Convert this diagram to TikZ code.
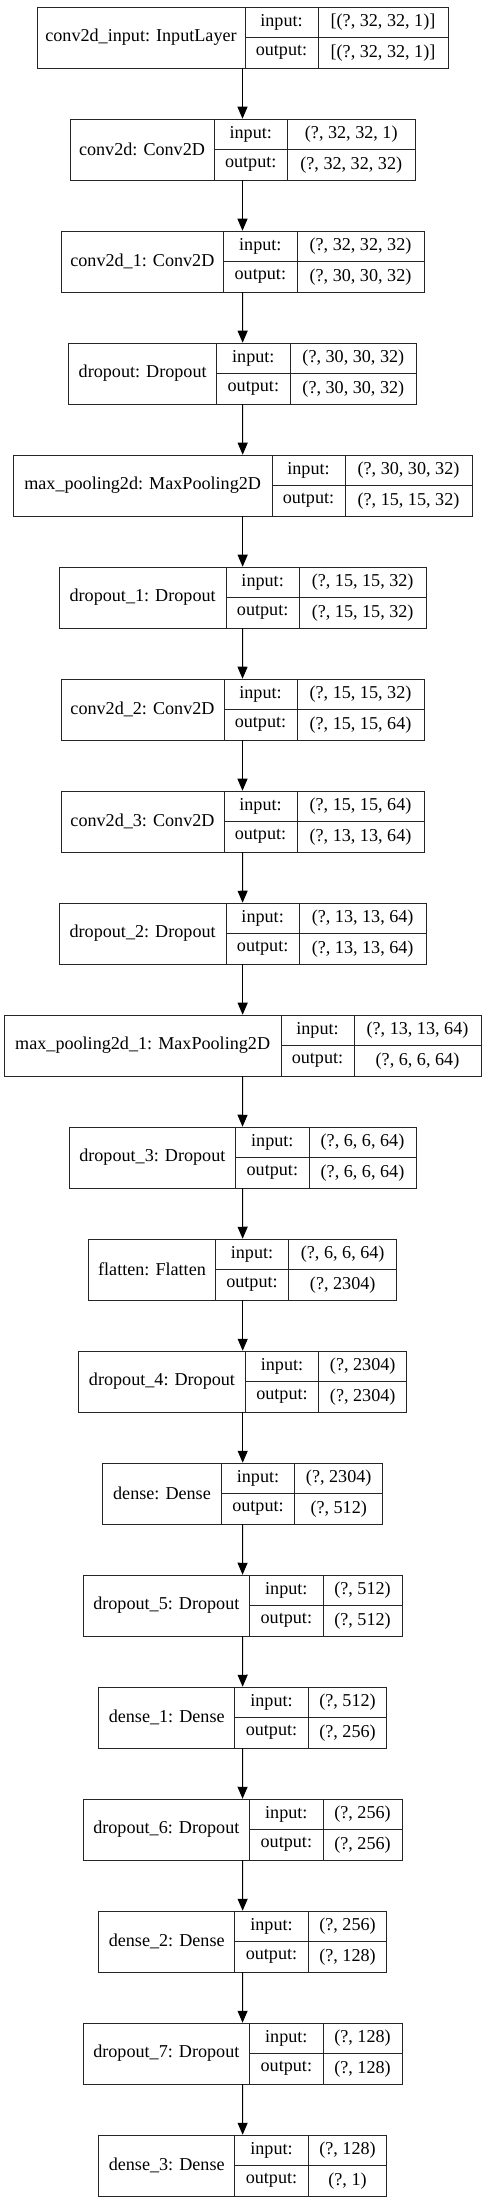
\documentclass[tikz,border=0pt]{standalone}
\usepackage{fontspec}
\setmainfont{Liberation Serif}
\usepackage{tikz}
\usetikzlibrary{arrows.meta}
\usetikzlibrary{fit,positioning}
% one record: #1 name, #2 row, #3 left, #4 first split, #5 second split, #6 right, #7 label, #8 input, #9 output
\newcommand{\layerbox}[9]{%
  \pgfmathsetmacro{\ytop}{7+112*#2}%
  \pgfmathsetmacro{\ymid}{\ytop+30.5}%
  \pgfmathsetmacro{\ybot}{\ytop+61}%
  \node[layer, fit={(#3,\ytop) (#6,\ybot)}] (#1) {};
  \node[cell, fit={(#3,\ytop) (#4,\ybot)}, label=center:{#7}] (#1-name) {};
  \node[cell, fit={(#4,\ytop) (#5,\ymid)}, label=center:{input:}] (#1-inkey) {};
  \node[cell, fit={(#5,\ytop) (#6,\ymid)}, label=center:{#8}] (#1-inval) {};
  \node[cell, fit={(#4,\ymid) (#5,\ybot)}, label=center:{output:}] (#1-outkey) {};
  \node[cell, fit={(#5,\ymid) (#6,\ybot)}, label=center:{#9}] (#1-outval) {};
}

\begin{document}
\begin{tikzpicture}[x=0.75pt, y=-0.75pt, font=\fontsize{13.6}{16}\selectfont,
                layer/.style={rectangle, inner sep=0pt, fill=white},
                cell/.style={rectangle, inner sep=0pt, draw=black!85, line width=0.75pt},
                arrow/.style={draw, line width=0.75pt, -{Triangle[length=9pt, width=7.5pt]}}
            ]
            \useasboundingbox (0,0) rectangle (485,2203);
            \layerbox{l0}{0}{37}{245}{318}{448}{conv2d\_input: InputLayer}{[(?, 32, 32, 1)]}{[(?, 32, 32, 1)]}
            \layerbox{l1}{1}{70}{214}{287.5}{415}{conv2d: Conv2D}{(?, 32, 32, 1)}{(?, 32, 32, 32)}
            \layerbox{l2}{2}{61}{223.7}{297}{424}{conv2d\_1: Conv2D}{(?, 32, 32, 32)}{(?, 30, 30, 32)}
            \layerbox{l3}{3}{68.7}{216.7}{290}{416.7}{dropout: Dropout}{(?, 30, 30, 32)}{(?, 30, 30, 32)}
            \layerbox{l4}{4}{13.3}{272}{345}{472}{max\_pooling2d: MaxPooling2D}{(?, 30, 30, 32)}{(?, 15, 15, 32)}
            \layerbox{l5}{5}{59.3}{226}{299.3}{426}{dropout\_1: Dropout}{(?, 15, 15, 32)}{(?, 15, 15, 32)}
            \layerbox{l6}{6}{61}{224}{297}{424}{conv2d\_2: Conv2D}{(?, 15, 15, 32)}{(?, 15, 15, 64)}
            \layerbox{l7}{7}{61}{224}{297}{424}{conv2d\_3: Conv2D}{(?, 15, 15, 64)}{(?, 13, 13, 64)}
            \layerbox{l8}{8}{59.3}{226}{299.3}{426}{dropout\_2: Dropout}{(?, 13, 13, 64)}{(?, 13, 13, 64)}
            \layerbox{l9}{9}{4.3}{281}{354}{481}{max\_pooling2d\_1: MaxPooling2D}{(?, 13, 13, 64)}{(?, 6, 6, 64)}
            \layerbox{l10}{10}{69}{235.7}{309}{416}{dropout\_3: Dropout}{(?, 6, 6, 64)}{(?, 6, 6, 64)}
            \layerbox{l11}{11}{88.7}{215.3}{288.7}{396.7}{flatten: Flatten}{(?, 6, 6, 64)}{(?, 2304)}
            \layerbox{l12}{12}{78.7}{245.3}{318.7}{406.7}{dropout\_4: Dropout}{(?, 2304)}{(?, 2304)}
            \layerbox{l13}{13}{102.7}{221.3}{294.7}{382.7}{dense: Dense}{(?, 2304)}{(?, 512)}
            \layerbox{l14}{14}{83}{249.7}{323}{402}{dropout\_5: Dropout}{(?, 512)}{(?, 512)}
            \layerbox{l15}{15}{98.7}{234.7}{308.3}{386.7}{dense\_1: Dense}{(?, 512)}{(?, 256)}
            \layerbox{l16}{16}{83}{249.7}{323}{402}{dropout\_6: Dropout}{(?, 256)}{(?, 256)}
            \layerbox{l17}{17}{98.7}{234.7}{308.3}{386.7}{dense\_2: Dense}{(?, 256)}{(?, 128)}
            \layerbox{l18}{18}{83}{249.7}{323}{402}{dropout\_7: Dropout}{(?, 128)}{(?, 128)}
            \layerbox{l19}{19}{98.7}{234.7}{308.3}{386.7}{dense\_3: Dense}{(?, 128)}{(?, 1)}
            \path[arrow] (l0) -- (l1);
            \path[arrow] (l1) -- (l2);
            \path[arrow] (l2) -- (l3);
            \path[arrow] (l3) -- (l4);
            \path[arrow] (l4) -- (l5);
            \path[arrow] (l5) -- (l6);
            \path[arrow] (l6) -- (l7);
            \path[arrow] (l7) -- (l8);
            \path[arrow] (l8) -- (l9);
            \path[arrow] (l9) -- (l10);
            \path[arrow] (l10) -- (l11);
            \path[arrow] (l11) -- (l12);
            \path[arrow] (l12) -- (l13);
            \path[arrow] (l13) -- (l14);
            \path[arrow] (l14) -- (l15);
            \path[arrow] (l15) -- (l16);
            \path[arrow] (l16) -- (l17);
            \path[arrow] (l17) -- (l18);
            \path[arrow] (l18) -- (l19);
        \end{tikzpicture}
\end{document}
